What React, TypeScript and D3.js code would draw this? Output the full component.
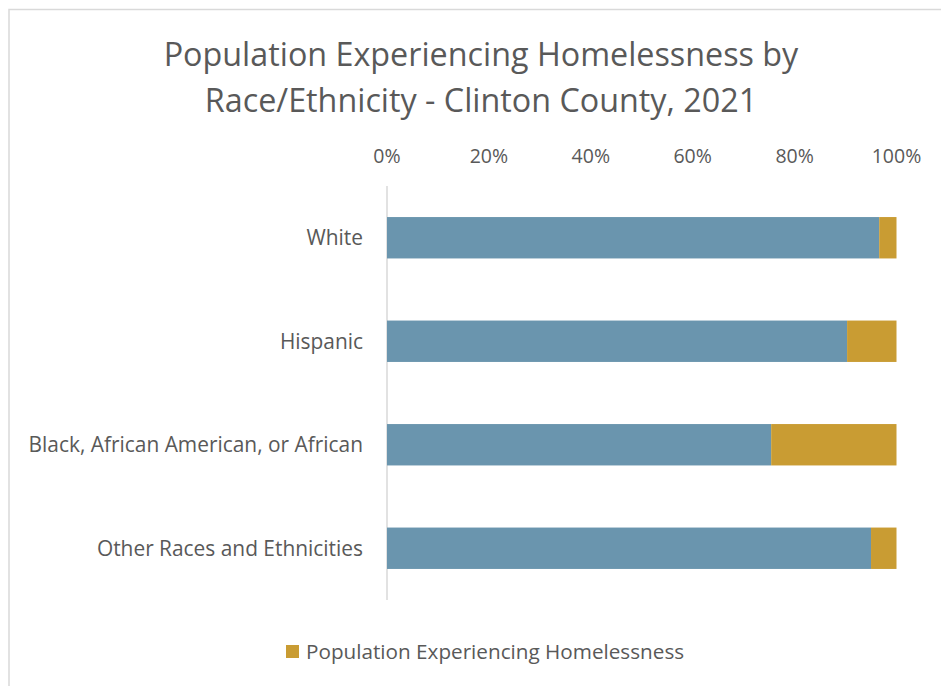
import React from "react";
import * as d3 from "d3";

const categories = [
  "White",
  "Hispanic",
  "Black, African American, or African",
  "Other Races and Ethnicities",
];
const otherShare = [96.6, 90.3, 75.4, 95.0];
const homelessShare = [3.4, 9.7, 24.6, 5.0];
const tickValues = [0, 20, 40, 60, 80, 100];
const legendLabel = "Population Experiencing Homelessness";
const titleLines = [
  "Population Experiencing Homelessness by",
  "Race/Ethnicity - Clinton County, 2021",
];

const W = 941;
const H = 686;
const BLUE = "#6A95AE";
const GOLD = "#C99C33";
const TEXT = "#595959";
const FONT = "'Open Sans', sans-serif";

export default function App() {
  const x = d3.scaleLinear().domain([0, 100]).range([387, 896.5]);
  const y = d3
    .scaleBand<string>()
    .domain(categories)
    .range([186, 600])
    .paddingInner(0.6)
    .paddingOuter(0.3);

  const stackData = categories.map((c, i) => ({
    cat: c,
    other: otherShare[i],
    homeless: homelessShare[i],
  }));
  const stack = d3.stack<any>().keys(["other", "homeless"]);
  const series = stack(stackData);
  const colors = [BLUE, GOLD];

  return (
    <svg
      width={W}
      height={H}
      style={{ position: "absolute", left: 0, top: 0 }}
      fontFamily={FONT}
    >
      <rect x={0} y={0} width={W} height={H} fill="#fff" />
      <rect x={9} y={9.5} width={W + 10} height={H + 10} fill="none" stroke="#D9D9D9" strokeWidth={1.5} />
      {titleLines.map((t, i) => (
        <text
          key={i}
          x={481}
          y={66 + i * 46}
          textAnchor="middle"
          fontSize={32.3}
          fill={TEXT}
        >
          {t}
        </text>
      ))}
      {tickValues.map((v) => (
        <text
          key={v}
          x={x(v)}
          y={163}
          textAnchor="middle"
          fontSize={19.5}
          fill={TEXT}
        >
          {v}%
        </text>
      ))}
      <line x1={x(0)} x2={x(0)} y1={186} y2={600} stroke="#D9D9D9" strokeWidth={1.5} />
      {series.map((s, si) => (
        <g key={si}>
          {s.map((d: any, i: number) => (
            <rect
              key={i}
              x={x(d[0])}
              y={y(d.data.cat)}
              width={x(d[1]) - x(d[0])}
              height={y.bandwidth()}
              fill={colors[si]}
            />
          ))}
        </g>
      ))}
      {categories.map((c) => (
        <text
          key={c}
          x={363}
          y={(y(c) as number) + y.bandwidth() / 2}
          dy="0.35em"
          textAnchor="end"
          fontSize={20.9}
          fill={TEXT}
        >
          {c}
        </text>
      ))}
      <rect x={286} y={645} width={13} height={13} fill={GOLD} />
      <text x={306} y={659} fontSize={20.7} fill={TEXT}>
        {legendLabel}
      </text>
    </svg>
  );
}
